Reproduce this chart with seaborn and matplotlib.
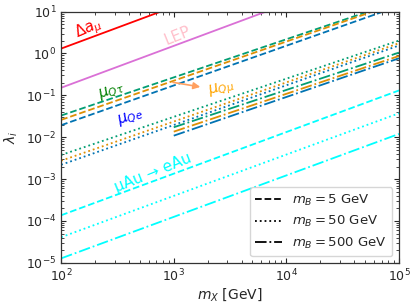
import matplotlib
matplotlib.use('Agg')
import matplotlib.pyplot as plt
import seaborn as sns
from matplotlib.lines import Line2D

# x ranges (GeV)
mx_full = [1e2, 1e5]
mx_high = [1e3, 1e5]

# single bounds
delta_amu = [1.31, 1310]
lep = [0.152, 152]

# m_B = 5 GeV (dashed)
qtau_5 = [0.0330, 17.8]
qmu_5 = [0.0260, 16.6]
qe_5 = [0.0194, 13.6]
au_5 = [1.37e-4, 0.131]

# m_B = 50 GeV (dotted)
qtau_50 = [0.00377, 2.04]
qmu_50 = [0.00275, 1.76]
qe_50 = [0.00220, 1.55]
au_50 = [4.1e-5, 0.0374]

# m_B = 500 GeV (dash-dot)
qtau_500 = [0.0173, 1.05]
qmu_500 = [0.0136, 0.871]
qe_500 = [0.0109, 0.767]
au_500 = [1.28e-5, 0.012]

legend_labels = [r'$m_B = 5$ GeV', r'$m_B = 50$ GeV', r'$m_B = 500$ GeV']

sns.set_style('ticks')
pal = sns.color_palette('colorblind')
c_blue, c_orange, c_green = pal[0], pal[1], pal[2]

fig, ax = plt.subplots(figsize=(4.16, 3.06), dpi=100)
fig.subplots_adjust(left=0.147, right=0.959, bottom=0.141, top=0.962)

lw = 1.3
sns.lineplot(x=mx_full, y=delta_amu, color='red', lw=lw, ax=ax)
sns.lineplot(x=mx_full, y=lep, color='orchid', lw=lw, ax=ax)

for ys, ls in [((qtau_5, qmu_5, qe_5, au_5), '--'),
               ((qtau_50, qmu_50, qe_50, au_50), ':'),
               ((qtau_500, qmu_500, qe_500, au_500), '-.')]:
    xs = mx_high if ls == '-.' else mx_full
    for y, c in zip(ys[:3], [c_green, c_orange, c_blue]):
        sns.lineplot(x=xs, y=y, color=c, lw=lw, linestyle=ls, ax=ax)
    sns.lineplot(x=mx_full, y=ys[3], color='cyan', lw=lw, linestyle=ls, ax=ax)

ax.set_xscale('log')
ax.set_yscale('log')
ax.set_xlim(1e2, 1e5)
ax.set_ylim(1e-5, 1e1)
ax.set_xlabel(r'$m_X$ [GeV]', fontsize=10, labelpad=1)
ax.set_ylabel(r'$\lambda_i$', fontsize=10)
ax.tick_params(which='both', direction='in', top=True, right=True, labelsize=9)
ax.tick_params(which='major', length=3.5, width=0.8)
ax.tick_params(which='minor', length=2, width=0.6)
for s in ax.spines.values():
    s.set_linewidth(0.9)
    s.set_color('#333333')

ax.text(175, 3.8, r'$\Delta a_\mu$', color='red', fontsize=11, rotation=24, ha='center', va='center')
ax.text(1070, 2.7, 'LEP', color='pink', fontsize=11, rotation=22, ha='center', va='center')
ax.text(280, 0.124, r'$\mu_{Q\tau}$', color='green', fontsize=11, rotation=20, ha='center', va='center')
ax.text(410, 0.0295, r'$\mu_{Qe}$', color='blue', fontsize=11, rotation=20, ha='center', va='center')
ax.text(2650, 0.138, r'$\mu_{Q\mu}$', color='orange', fontsize=11, rotation=15, ha='center', va='center')
ax.annotate('', xy=(1820, 0.155), xytext=(930, 0.21),
            arrowprops=dict(arrowstyle='-|>', color='#ffa060', lw=1.2))
ax.text(650, 1.4e-3, 'μAu → eAu', color='cyan', fontsize=11, rotation=22, ha='center', va='center')

handles = [Line2D([], [], color='black', lw=lw, linestyle=ls) for ls in ['--', ':', '-.']]
ax.legend(handles, legend_labels, loc='lower right', fontsize=9.5)

fig.savefig('out.png', dpi=100)
